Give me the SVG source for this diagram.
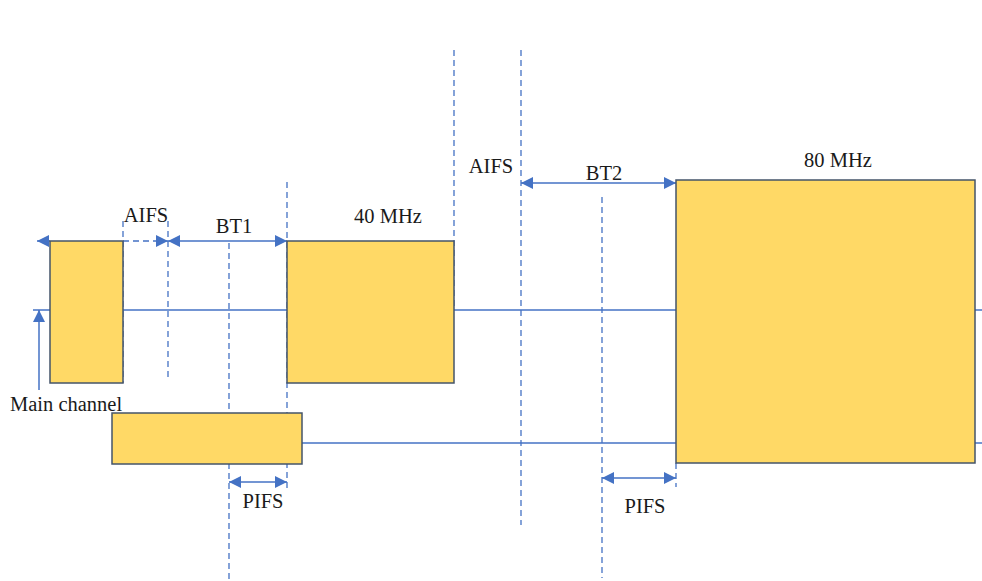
<svg xmlns="http://www.w3.org/2000/svg" width="982" height="581" viewBox="0 0 982 581">
<style>
.box{fill:#FFD966;stroke:#44546A;stroke-width:1.5}
.ln{stroke:#4472C4;stroke-width:1.5;fill:none}
.dash{stroke:#4472C4;stroke-width:1.3;stroke-dasharray:6,4;fill:none}
text{font-family:"Liberation Serif","Times New Roman",serif;font-size:20.5px;fill:#1a1a1a}
</style>
<defs>
<marker id="ah" viewBox="0 0 10 10" refX="10" refY="5" markerWidth="12" markerHeight="12" markerUnits="userSpaceOnUse" orient="auto-start-reverse">
<path d="M0,0 L10,5 L0,10 z" fill="#4472C4"/>
</marker>
</defs>
<rect width="982" height="581" fill="#fff"/>
<g id="connectors">
<line class="ln" x1="33" y1="310" x2="50" y2="310"/>
<line class="ln" x1="123" y1="310" x2="287" y2="310"/>
<line class="ln" x1="454" y1="310" x2="676" y2="310"/>
<line class="ln" x1="975" y1="310" x2="982" y2="310"/>
<line class="ln" x1="302" y1="443" x2="676" y2="443"/>
<line class="ln" x1="975" y1="443" x2="982" y2="443"/>
<line class="ln" x1="39" y1="390" x2="39" y2="310" marker-end="url(#ah)"/>
<line class="ln" x1="50" y1="241" x2="37" y2="241" marker-end="url(#ah)"/>
<line class="dash" x1="123" y1="241" x2="168" y2="241" marker-end="url(#ah)"/>
<line class="ln" x1="168" y1="241" x2="287" y2="241" marker-start="url(#ah)" marker-end="url(#ah)"/>
<line class="ln" x1="521" y1="183" x2="676" y2="183" marker-start="url(#ah)" marker-end="url(#ah)"/>
<line class="ln" x1="229" y1="482" x2="287" y2="482" marker-start="url(#ah)" marker-end="url(#ah)"/>
<line class="ln" x1="602" y1="478" x2="676" y2="478" marker-start="url(#ah)" marker-end="url(#ah)"/>
<line class="dash" x1="123" y1="221" x2="123" y2="383"/>
<line class="dash" x1="168" y1="221" x2="168" y2="377"/>
<line class="dash" x1="229" y1="243" x2="229" y2="580"/>
<line class="dash" x1="287" y1="182" x2="287" y2="490"/>
<line class="dash" x1="454" y1="50" x2="454" y2="310"/>
<line class="dash" x1="521" y1="50" x2="521" y2="525"/>
<line class="dash" x1="602" y1="197" x2="602" y2="578"/>
<line class="dash" x1="676" y1="463" x2="676" y2="487"/>
</g>
<g id="box1"><rect class="box" x="50" y="241" width="73" height="142"/></g>
<g id="box2"><rect class="box" x="112" y="413" width="190" height="51"/></g>
<g id="box40"><rect class="box" x="287" y="241" width="167" height="142"/></g>
<g id="box80"><rect class="box" x="676" y="180" width="299" height="283"/></g>
<g id="labels">
<text x="10" y="411">Main channel</text>
<text x="146" y="222" text-anchor="middle">AIFS</text>
<text x="234" y="233" text-anchor="middle">BT1</text>
<text x="388" y="223" text-anchor="middle">40 MHz</text>
<text x="491" y="173" text-anchor="middle">AIFS</text>
<text x="604" y="180" text-anchor="middle">BT2</text>
<text x="838" y="167" text-anchor="middle">80 MHz</text>
<text x="263" y="508" text-anchor="middle">PIFS</text>
<text x="645" y="513" text-anchor="middle">PIFS</text>
</g>
</svg>
